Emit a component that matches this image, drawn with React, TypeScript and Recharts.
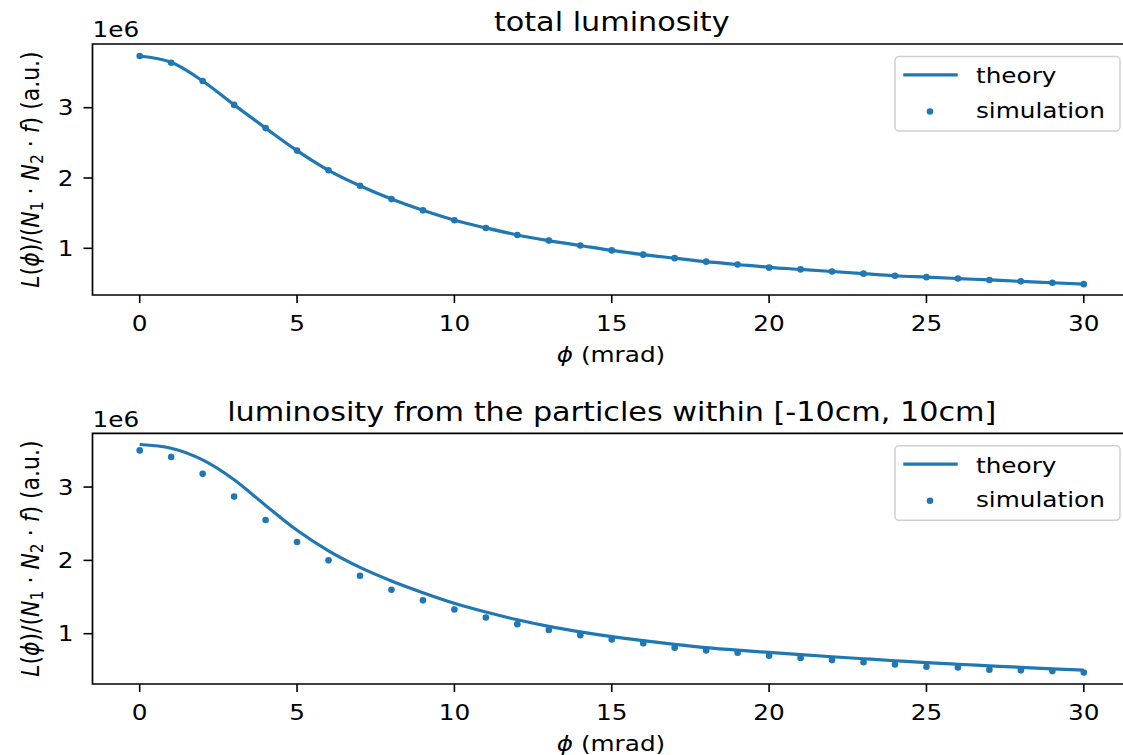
import React from "react";
import {
  ComposedChart,
  Line,
  Scatter,
  XAxis,
  YAxis,
  ReferenceArea,
} from "recharts";

// values in units of 1e6 (matplotlib offset label)
const phi = [
  0, 1, 2, 3, 4, 5, 6, 7, 8, 9, 10, 11, 12, 13, 14, 15, 16, 17, 18, 19, 20,
  21, 22, 23, 24, 25, 26, 27, 28, 29, 30,
];
const totalTheory = [
  3.735, 3.645, 3.38, 3.04, 2.71, 2.39, 2.11, 1.89, 1.7, 1.54, 1.4, 1.29,
  1.19, 1.11, 1.04, 0.97, 0.91, 0.86, 0.81, 0.77, 0.73, 0.7, 0.67, 0.64, 0.61,
  0.59, 0.57, 0.55, 0.53, 0.51, 0.49,
];
const totalSimulation = [
  3.735, 3.64, 3.38, 3.04, 2.71, 2.39, 2.11, 1.89, 1.7, 1.54, 1.4, 1.29, 1.19,
  1.11, 1.04, 0.97, 0.91, 0.86, 0.81, 0.77, 0.725, 0.7, 0.67, 0.64, 0.61,
  0.59, 0.57, 0.55, 0.53, 0.51, 0.49,
];
const innerTheory = [
  3.58, 3.53, 3.37, 3.1, 2.75, 2.41, 2.13, 1.905, 1.72, 1.56, 1.415, 1.295,
  1.19, 1.1, 1.025, 0.96, 0.905, 0.855, 0.81, 0.775, 0.745, 0.715, 0.686,
  0.658, 0.631, 0.605, 0.583, 0.562, 0.541, 0.521, 0.502,
];
const innerSimulation = [
  3.5, 3.41, 3.18, 2.87, 2.55, 2.25, 2.0, 1.79, 1.6, 1.455, 1.33, 1.22, 1.13,
  1.05, 0.98, 0.92, 0.87, 0.81, 0.77, 0.74, 0.7, 0.67, 0.64, 0.61, 0.58, 0.55,
  0.54, 0.51, 0.5, 0.49, 0.47,
];
const phiTicks = [0, 5, 10, 15, 20, 25, 30];
const lumTicks = [1, 2, 3];
const phiDomain = [-1.5, 31.5];
const totalDomain = [0.336, 3.906];
const innerDomain = [0.314, 3.733];

const FONT = "'DejaVu Sans', sans-serif";
const BLUE = "#1f77b4";
const SX = 1.15; // source image is a bit wider than tall
const FS = 21.5;
const CHART_W = 1150;
const PLOT_LEFT = 92.5;
const PLOT_RIGHT = 1131;
const PLOT_MID = (PLOT_LEFT + PLOT_RIGHT) / 2;

const XTick = (props: any) => {
  const { x, y, payload } = props;
  return (
    <text
      transform={`translate(${x},${y}) scale(${SX},1)`}
      textAnchor="middle"
      dy="0.73em"
      fontSize={FS}
      fontFamily={FONT}
      fill="#000"
    >
      {payload.value}
    </text>
  );
};

const YTick = (props: any) => {
  const { x, y, payload } = props;
  return (
    <text
      transform={`translate(${x},${y}) scale(${SX},1)`}
      textAnchor="end"
      dy="0.36em"
      fontSize={FS}
      fontFamily={FONT}
      fill="#000"
    >
      {payload.value}
    </text>
  );
};

const SimDot = (p: any) => <circle cx={p.cx} cy={p.cy} r={3.3} fill={BLUE} />;

function Txt({ x, y, anchor = "start", size = FS, children }: any) {
  return (
    <text
      transform={`translate(${x},${y}) scale(${SX},1)`}
      textAnchor={anchor}
      fontSize={size}
      fontFamily={FONT}
      fill="#000"
    >
      {children}
    </text>
  );
}

function LegendBox({ y }: { y: number }) {
  return (
    <g>
      <rect
        x={895}
        y={y}
        width={225}
        height={74.5}
        rx={4}
        fill="#fff"
        stroke="#d0d0d0"
        strokeWidth={1.5}
      />
      <line x1={903.3} x2={957.7} y1={y + 18.3} y2={y + 18.3} stroke={BLUE} strokeWidth={3.2} />
      <Txt x={976} y={y + 26.8}>theory</Txt>
      <circle cx={930} cy={y + 55} r={3.3} fill={BLUE} />
      <Txt x={976} y={y + 61}>simulation</Txt>
    </g>
  );
}

interface PanelProps {
  top: number;
  height: number;
  marginTop: number;
  xAxisHeight: number;
  theory: number[];
  simulation: number[];
  yDomain: number[];
  title: string;
}

function Panel({
  top,
  height,
  marginTop,
  xAxisHeight,
  theory,
  simulation,
  yDomain,
  title,
}: PanelProps) {
  const data = phi.map((p, i) => ({
    phi: p,
    theory: theory[i],
    simulation: simulation[i],
  }));
  const plotBottom = height - xAxisHeight;
  const midY = (marginTop + plotBottom) / 2;

  return (
    <div style={{ position: "absolute", left: 0, top }}>
      <ComposedChart
        width={CHART_W}
        height={height}
        data={data}
        margin={{ top: marginTop, right: CHART_W - PLOT_RIGHT, bottom: 0, left: 0 }}
      >
        <XAxis
          dataKey="phi"
          type="number"
          domain={phiDomain}
          ticks={phiTicks}
          height={xAxisHeight}
          stroke="#000"
          axisLine={false}
          tickLine={{ stroke: "#000", strokeWidth: 1.6 }}
          tickSize={8}
          tickMargin={12}
          tick={<XTick />}
          allowDataOverflow
        />
        <YAxis
          type="number"
          domain={yDomain}
          ticks={lumTicks}
          width={PLOT_LEFT}
          stroke="#000"
          axisLine={false}
          tickLine={{ stroke: "#000", strokeWidth: 1.6 }}
          tickSize={9}
          tickMargin={10}
          tick={<YTick />}
          allowDataOverflow
        />
        <ReferenceArea
          x1={phiDomain[0]}
          x2={phiDomain[1]}
          y1={yDomain[0]}
          y2={yDomain[1]}
          fill="none"
          fillOpacity={0}
          stroke="#000"
          strokeWidth={1.7}
        />
        <Line
          dataKey="theory"
          type="monotone"
          stroke={BLUE}
          strokeWidth={3.2}
          dot={false}
          isAnimationActive={false}
        />
        <Scatter
          dataKey="simulation"
          fill={BLUE}
          shape={SimDot}
          isAnimationActive={false}
        />
        <Txt x={PLOT_MID} y={marginTop - 12.8} anchor="middle" size={26.3}>
          {title}
        </Txt>
        <Txt x={PLOT_LEFT} y={marginTop - 6.7}>1e6</Txt>
        <Txt x={611} y={plotBottom + 67} anchor="middle">
          <tspan fontStyle="italic">ϕ</tspan> (mrad)
        </Txt>
        <text
          transform={`translate(38.5,${midY}) scale(${SX},1) rotate(-90)`}
          textAnchor="middle"
          fontSize={22}
          fontFamily={FONT}
          fill="#000"
        >
          <tspan fontStyle="italic">L</tspan>(<tspan fontStyle="italic">ϕ</tspan>)/(
          <tspan fontStyle="italic">N</tspan>
          <tspan fontSize={15.5} dy={4}>1</tspan>
          <tspan dy={-4}> · </tspan>
          <tspan fontStyle="italic">N</tspan>
          <tspan fontSize={15.5} dy={4}>2</tspan>
          <tspan dy={-4}> · </tspan>
          <tspan fontStyle="italic">f</tspan>) (a.u.)
        </text>
        <LegendBox y={marginTop + 12.5} />
      </ComposedChart>
    </div>
  );
}

export default function App() {
  return (
    <div
      style={{
        position: "absolute",
        left: 0,
        top: 0,
        width: 1123,
        height: 755,
        overflow: "hidden",
        background: "#fff",
      }}
    >
      <Panel
        top={0}
        height={380}
        marginTop={44}
        xAxisHeight={85}
        theory={totalTheory}
        simulation={totalSimulation}
        yDomain={totalDomain}
        title="total luminosity"
      />
      <Panel
        top={380}
        height={375}
        marginTop={53.3}
        xAxisHeight={71}
        theory={innerTheory}
        simulation={innerSimulation}
        yDomain={innerDomain}
        title="luminosity from the particles within [-10cm, 10cm]"
      />
    </div>
  );
}
